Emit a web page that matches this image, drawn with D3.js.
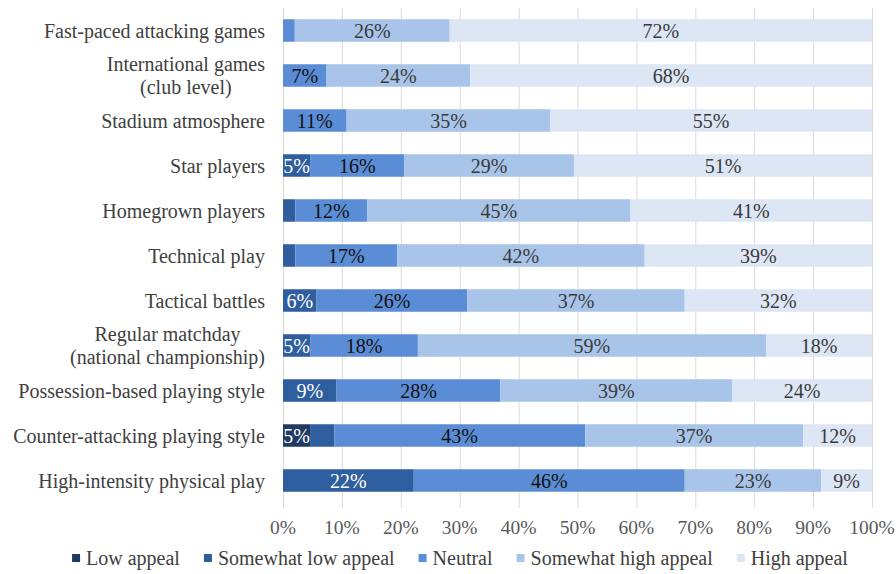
<!DOCTYPE html>
<html>
<head>
<meta charset="utf-8">
<script src="https://cdn.jsdelivr.net/npm/d3@7"></script>
<style>
  body { margin: 0; background: #fff; }
  text { font-family: "Liberation Serif", "Times New Roman", serif; }
</style>
</head>
<body>
<div id="chart"></div>
<script>
// Categories, top to bottom (multi-line labels split with \n)
const categories = [
  'Fast-paced attacking games',
  'International games\n(club level)',
  'Stadium atmosphere',
  'Star players',
  'Homegrown players',
  'Technical play',
  'Tactical battles',
  'Regular matchday\n(national championship)',
  'Possession-based playing style',
  'Counter-attacking playing style',
  'High-intensity physical play'
];

const seriesNames = ['Low appeal', 'Somewhat low appeal', 'Neutral', 'Somewhat high appeal', 'High appeal'];

// Share of respondents (%) per category
const lowAppeal          = [0,    0,    0,    0,    0,    0,    0,    0,    0,    4.6,  0];
const somewhatLowAppeal  = [0,    0,    0,    4.6,  2.1,  2.1,  5.7,  4.6,  9.1,  4.1,  22.2];
const neutral            = [2.0,  7.4,  10.8, 16.0, 12.2, 17.3, 25.6, 18.3, 27.8, 42.6, 46.0];
const somewhatHighAppeal = [26.3, 24.4, 34.6, 28.8, 44.7, 42.0, 36.9, 59.1, 39.4, 37.0, 23.2];
const highAppeal         = [71.7, 68.2, 54.6, 50.6, 41.0, 38.6, 31.8, 18.0, 23.7, 11.7, 8.6];

const xTicks = [0, 10, 20, 30, 40, 50, 60, 70, 80, 90, 100];

const colors = ['#203a62', '#2f5e9e', '#5a8dd5', '#a8c4e8', '#dce6f4'];
const labelColors = ['#ffffff', '#ffffff', '#111111', '#3a3a3a', '#3a3a3a'];

// build rows for d3.stack
const seriesArrays = [lowAppeal, somewhatLowAppeal, neutral, somewhatHighAppeal, highAppeal];
const rows = categories.map((c, i) => {
  let r = { category: c };
  seriesNames.forEach((s, j) => r[s] = seriesArrays[j][i]);
  return r;
});

let width = 896, height = 574;
let margin = { top: 8, bottom: 71, left: 283, right: 24 };

let svg = d3.select('#chart')
  .append('svg')
  .attr('width', width)
  .attr('height', height);

let xscale = d3.scaleLinear()
  .domain([0, 100])
  .range([margin.left, width - margin.right]);

let yscale = d3.scaleBand()
  .domain(categories)
  .range([margin.top, height - margin.bottom])
  .paddingInner(0.5)
  .paddingOuter(0.25);

// gridlines
svg.append('g')
  .selectAll('line')
  .data(xTicks)
  .enter()
  .append('line')
  .attr('x1', d => xscale(d) + 0.5)
  .attr('x2', d => xscale(d) + 0.5)
  .attr('y1', margin.top)
  .attr('y2', height - margin.bottom + 5)
  .attr('stroke', '#d9d9d9')
  .attr('stroke-width', 1);

// x tick labels
svg.append('g')
  .selectAll('text')
  .data(xTicks)
  .enter()
  .append('text')
  .attr('x', d => xscale(d))
  .attr('y', height - margin.bottom + 31)
  .attr('text-anchor', 'middle')
  .style('font-size', '19.5px')
  .attr('fill', '#595959')
  .text(d => d + '%');

// stacked bars
let stacked = d3.stack().keys(seriesNames)(rows);

let layers = svg.selectAll('.layer')
  .data(stacked)
  .enter()
  .append('g')
  .attr('class', 'layer')
  .attr('fill', (d, i) => colors[i]);

layers.selectAll('rect')
  .data(d => d)
  .enter()
  .append('rect')
  .attr('x', d => xscale(d[0]))
  .attr('y', d => yscale(d.data.category))
  .attr('width', d => xscale(d[1]) - xscale(d[0]))
  .attr('height', yscale.bandwidth());

// data labels (small segments get none)
layers.each(function(layer, i) {
  d3.select(this).selectAll('text')
    .data(layer.filter(d => d[1] - d[0] >= 4.3))
    .enter()
    .append('text')
    .attr('x', d => (xscale(d[0]) + xscale(d[1])) / 2)
    .attr('y', d => yscale(d.data.category) + yscale.bandwidth() / 2)
    .attr('dy', '0.35em')
    .attr('text-anchor', 'middle')
    .style('font-size', '20px')
    .attr('fill', labelColors[i])
    .text(d => Math.round(d[1] - d[0]) + '%');
});

// category labels, right-aligned block, lines centered within it
let labelRight = margin.left - 18;
categories.forEach(c => {
  let lines = c.split('\n');
  let cy = yscale(c) + yscale.bandwidth() / 2;
  let g = svg.append('text')
    .style('font-size', '20px')
    .attr('fill', '#404040')
    .attr('text-anchor', 'end');
  lines.forEach((l, k) => {
    g.append('tspan')
      .attr('x', labelRight)
      .attr('y', cy + (k - (lines.length - 1) / 2) * 23)
      .attr('dy', '0.35em')
      .text(l);
  });
  if (lines.length > 1) {
    let maxW = d3.max(g.selectAll('tspan').nodes(), n => n.getComputedTextLength());
    g.attr('text-anchor', 'middle');
    g.selectAll('tspan').attr('x', labelRight - maxW / 2);
  }
});

// legend
let legend = svg.append('g');
let lx = 0;
seriesNames.forEach((s, i) => {
  let item = legend.append('g').attr('transform', `translate(${lx}, 0)`);
  item.append('rect')
    .attr('x', 0)
    .attr('y', -4)
    .attr('width', 8)
    .attr('height', 8)
    .attr('fill', colors[i]);
  let t = item.append('text')
    .attr('x', 14)
    .attr('y', 0)
    .attr('dy', '0.35em')
    .style('font-size', '20px')
    .attr('fill', '#404040')
    .text(s);
  lx += 14 + t.node().getComputedTextLength() + 24;
});
lx -= 24;
legend.attr('transform', `translate(${(width - lx) / 2 + 12}, 558)`);
</script>
</body>
</html>
